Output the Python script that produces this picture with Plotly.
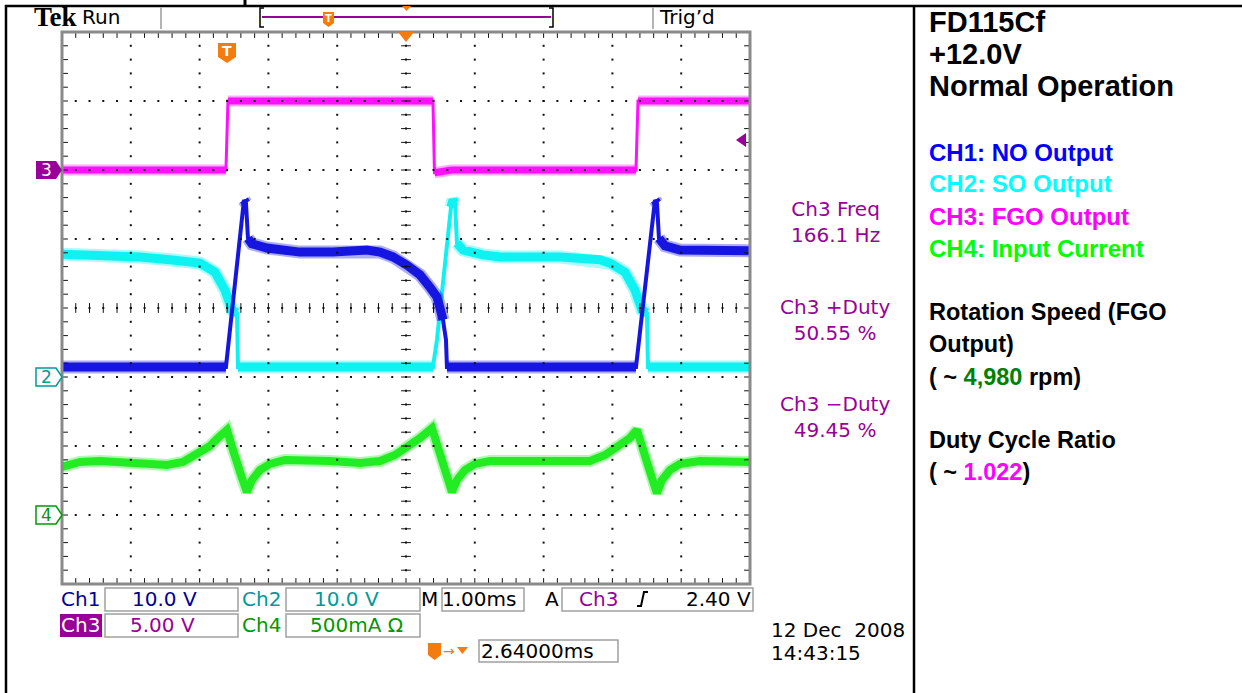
import numpy as np
import plotly.graph_objects as go

W, H = 1242, 693

# ---------------- data ----------------
# time axis: ms relative to trigger (1.00 ms/div, trigger 2.64 ms left of screen centre)
T_LEFT, T_RIGHT = -2.36, 7.64

# CH1 : NO output (V), 10 V/div
ch1_t = [-2.36, 0.023, 0.285, 0.314, 0.343, 0.401, 0.619, 1.099, 1.578, 2.073, 2.262, 2.451,
         2.654, 2.843, 2.988, 3.090, 3.134, 3.177, 3.221, 3.235, 5.983, 6.259, 6.288, 6.317,
         6.404, 6.622, 7.64]
ch1_v = [1.45, 1.45, 25.65, 25.2, 20.1, 19.3, 18.7, 18.1, 18.1, 18.4, 18.1, 17.4,
         16.2, 14.8, 13.0, 11.6, 10.0, 8.3, 5.4, 1.45, 1.45, 25.65, 25.2, 20.1,
         19.0, 18.4, 18.3]

# CH2 : SO output (V), 10 V/div
ch2_t = [-2.36, -1.808, -1.227, -0.791, -0.355, -0.137, 0.009, 0.110, 0.183, 0.198,
         3.032, 3.090, 3.134, 3.235, 3.294, 3.323, 3.352, 3.381, 3.468, 3.759,
         4.006, 4.878, 5.459, 5.605, 5.823, 5.968, 6.070, 6.142, 6.157, 7.64]
ch2_v = [17.8, 17.7, 17.4, 17.0, 16.5, 15.2, 12.6, 9.7, 9.3, 1.45,
         1.45, 5.4, 9.3, 18.8, 24.6, 25.65, 25.2, 19.4, 18.4, 17.7,
         17.4, 17.4, 17.0, 16.5, 15.2, 12.6, 9.7, 9.3, 1.45, 1.45]

# CH3 : FGO output (V), 5 V/div
ch3_t = [-2.36, 0.023, 0.052, 3.032, 3.054, 3.200, 3.300, 5.983, 6.012, 7.64]
ch3_v = [0.0, 0.0, 5.0, 5.0, -0.2, -0.15, 0.0, 0.0, 5.0, 5.0]

# CH4 : input current (mA), 500 mA/div
ch4_t = [-2.36, -2.099, -1.808, -1.328, -0.834, -0.602, -0.355, -0.209, -0.108, 0.038,
         0.125, 0.198, 0.256, 0.328, 0.401, 0.517, 0.663, 0.881, 1.099, 1.535,
         1.971, 2.262, 2.480, 2.698, 2.843, 3.017, 3.105, 3.177, 3.235, 3.308,
         3.381, 3.497, 3.642, 3.860, 4.297, 4.878, 5.314, 5.532, 5.749, 5.895,
         5.997, 6.084, 6.157, 6.215, 6.288, 6.360, 6.477, 6.622, 6.913, 7.64]
ch4_i = [348, 384, 391, 370, 362, 384, 449, 500, 551, 616,
         471, 326, 268, 167, 254, 326, 370, 399, 399, 391,
         377, 391, 435, 500, 558, 630, 486, 341, 268, 167,
         254, 326, 370, 391, 391, 384, 391, 435, 500, 558,
         616, 471, 326, 268, 159, 254, 326, 370, 391, 384]

# readouts
ch_scales = ["10.0 V", "10.0 V", "5.00 V", "500mA Ω"]
timebase = "1.00ms"
trig_level = "2.40 V"
trig_pos = "2.64000ms"
meas_labels = ["Ch3 Freq", "Ch3 +Duty", "Ch3 \u2212Duty"]
meas_values = ["166.1 Hz", "50.55 %", "49.45 %"]
date_str = "12 Dec\u00a0 2008"
time_str = "14:43:15"
panel_title = ["FD115Cf", "+12.0V", "Normal Operation"]
panel_channels = ["CH1: NO Output", "CH2: SO Output", "CH3: FGO Output", "CH4: Input Current"]
rpm_value = "4,980"
duty_ratio = "1.022"

# ---------------- styling ----------------
C1, C2, C3, C4 = "#1616e0", "#10f2f2", "#ff10ff", "#22ec22"
PURPLE, NAVY, TEAL, DGREEN = "#990099", "#000099", "#009999", "#009900"
ORANGE = "#f47b0e"
PXDIV_X, PXDIV_Y = 68.8, 69.0
GX0, GX1, GY0, GY1 = 62, 750, 32, 584


def X(p):
    return p / W


def Y(p):
    return 1 - p / H


fig = go.Figure()

# anchor trace for the main subplot (invisible)
fig.add_trace(go.Scatter(x=[T_LEFT], y=[0], mode="markers", yaxis="y", hoverinfo="skip",
                         marker=dict(size=1, opacity=0)))


def add_channel(t, v, vdiv, color, yaxis, thick, thin=3.0):
    xs, ys = [], []
    prev = False
    for i in range(len(t) - 1):
        dx = (t[i + 1] - t[i]) * PXDIV_X
        dy = abs(v[i + 1] - v[i]) / vdiv * PXDIV_Y
        flat = dx > 0 and dy <= 5 * dx
        if flat:
            if not prev:
                if xs:
                    xs.append(None)
                    ys.append(None)
                xs.append(t[i])
                ys.append(v[i])
            xs.append(t[i + 1])
            ys.append(v[i + 1])
        prev = flat
    # faint noise halo, solid band, thin edges
    fig.add_trace(go.Scatter(x=xs, y=ys, mode="lines", yaxis=yaxis, hoverinfo="skip", opacity=0.35,
                             line=dict(color=color, width=thick + 4)))
    fig.add_trace(go.Scatter(x=xs, y=ys, mode="lines", yaxis=yaxis, hoverinfo="skip",
                             line=dict(color=color, width=thick)))
    fig.add_trace(go.Scatter(x=t, y=v, mode="lines", yaxis=yaxis, hoverinfo="skip",
                             line=dict(color=color, width=thin)))


add_channel(ch4_t, ch4_i, 500, C4, "y2", 8)
add_channel(ch3_t, ch3_v, 5, C3, "y3", 7)
add_channel(ch2_t, ch2_v, 10, C2, "y4", 9, 4)
add_channel(ch1_t, ch1_v, 10, C1, "y4", 9, 4)

# ---------------- graticule (on top) ----------------
fine_x = T_LEFT + np.arange(51) * 0.2
fine_y = np.arange(41) * 0.2
dx_, dy_ = [], []
for k in range(1, 10):
    dx_ += [T_LEFT + k] * 39
    dy_ += list(fine_y[1:-1])
for m in range(1, 8):
    dx_ += list(fine_x[1:-1])
    dy_ += [m] * 49
fig.add_trace(go.Scatter(x=dx_, y=dy_, mode="markers", yaxis="y5", hoverinfo="skip",
                         marker=dict(symbol="square", size=2, color="#111", line=dict(width=0))))
fig.add_trace(go.Scatter(x=[T_LEFT + 5] * 41, y=fine_y, mode="markers", yaxis="y5", hoverinfo="skip",
                         marker=dict(symbol="line-ew", size=7, line=dict(width=1, color="#111"))))
fig.add_trace(go.Scatter(x=fine_x, y=[4] * 51, mode="markers", yaxis="y5", hoverinfo="skip",
                         marker=dict(symbol="line-ns", size=7, line=dict(width=1, color="#111"))))
ex = list(fine_x) * 2
ey = [8 - 0.035] * 51 + [0.035] * 51
fig.add_trace(go.Scatter(x=ex, y=ey, mode="markers", yaxis="y5", hoverinfo="skip",
                         marker=dict(symbol="line-ns", size=5, line=dict(width=1, color="#111"))))
ex = [T_LEFT + 0.035] * 41 + [T_RIGHT - 0.035] * 41
ey = list(fine_y) * 2
fig.add_trace(go.Scatter(x=ex, y=ey, mode="markers", yaxis="y5", hoverinfo="skip",
                         marker=dict(symbol="line-ew", size=5, line=dict(width=1, color="#111"))))

# ---------------- shapes ----------------
shapes = []


def line(x0, y0, x1, y1, color="black", w=2):
    shapes.append(dict(type="line", xref="paper", yref="paper", x0=X(x0), y0=Y(y0), x1=X(x1), y1=Y(y1),
                       line=dict(color=color, width=w)))


def rect(x0, y0, x1, y1, color="#a0a0a0", w=1.5, fill=None):
    d = dict(type="rect", xref="paper", yref="paper", x0=X(x0), y0=Y(y0), x1=X(x1), y1=Y(y1),
             line=dict(color=color, width=w))
    if fill:
        d["fillcolor"] = fill
    shapes.append(d)


def poly(pts, fill, color=None, w=0):
    p = "M " + " L ".join(f"{X(a):.5f},{Y(b):.5f}" for a, b in pts) + " Z"
    shapes.append(dict(type="path", xref="paper", yref="paper", path=p, fillcolor=fill,
                       line=dict(color=color or fill, width=w)))


# page frame
line(5, 6, 1242, 6, w=2.5)
line(6, 5, 6, 693, w=2.5)
line(914, 5, 914, 693, w=2.5)
line(245, 0, 245, 6, w=3)
# header
line(161, 7, 161, 29, color="#b4b4b4", w=2)
line(653, 7, 653, 29, color="#b4b4b4", w=2)
line(262, 17, 551, 17, color=PURPLE, w=2)
shapes.append(dict(type="path", xref="paper", yref="paper",
                   path=f"M {X(264)},{Y(8)} L {X(260)},{Y(8)} L {X(260)},{Y(27)} L {X(264)},{Y(27)}",
                   line=dict(color="black", width=1.5)))
shapes.append(dict(type="path", xref="paper", yref="paper",
                   path=f"M {X(549)},{Y(8)} L {X(553)},{Y(8)} L {X(553)},{Y(27)} L {X(549)},{Y(27)}",
                   line=dict(color="black", width=1.5)))
poly([(402, 6), (411, 6), (406.5, 11)], ORANGE)
poly([(323, 12), (334, 12), (334, 23), (328.5, 27), (323, 23)], ORANGE)

# graticule frame
shapes.append(dict(type="rect", xref="paper", yref="paper", x0=X(GX0), x1=X(GX1), y0=Y(GY1), y1=Y(GY0),
                   line=dict(color="#8a8a8a", width=3)))
# trigger markers
poly([(398, 32), (414, 32), (406, 42)], ORANGE)
poly([(218, 43), (236, 43), (236, 57), (227, 63), (218, 57)], ORANGE)
poly([(746, 133), (736, 140), (746, 147)], PURPLE)

# ground tags
poly([(36, 161), (56, 161), (62, 170), (56, 179), (36, 179)], PURPLE)
poly([(36, 368), (56, 368), (62, 377), (56, 386), (36, 386)], "white", TEAL, 1.5)
poly([(36, 506), (56, 506), (62, 515), (56, 524), (36, 524)], "white", DGREEN, 1.5)

# status boxes
rect(105, 588, 238, 611)
rect(286, 588, 420, 611)
rect(442, 588, 524, 611)
rect(562, 588, 753, 611)
rect(105, 614, 238, 637)
rect(286, 614, 420, 637)
rect(479, 640, 618, 662)
rect(60, 614, 102, 637, color=PURPLE, w=0, fill=PURPLE)
shapes.append(dict(type="path", xref="paper", yref="paper",
                   path=f"M {X(637)},{Y(606)} L {X(641)},{Y(606)} L {X(644)},{Y(592)} L {X(648)},{Y(592)}",
                   line=dict(color="black", width=2)))
poly([(428, 643), (441, 643), (441, 655), (434.5, 660), (428, 655)], ORANGE)
poly([(457, 647), (468, 647), (462.5, 654)], ORANGE)

# ---------------- text ----------------
ann = []
SC = "DejaVu Sans"
AR = "Liberation Sans"


def txt(s, x, y, size=20, color="black", family=SC, xa="left"):
    ann.append(dict(text=s, x=X(x), y=Y(y), xref="paper", yref="paper", showarrow=False,
                    xanchor=xa, yanchor="middle", font=dict(size=size, color=color, family=family)))


txt("<b>Tek</b>", 32, 17, size=27, family="Liberation Serif")
txt("Run", 80, 17)
txt("Trig\u2019d", 657, 17)
txt("<b>T</b>", 227, 51, size=14, color="white", xa="center")
txt("<b>T</b>", 328.5, 18, size=10, color="white", xa="center")

txt("3", 46, 170, size=17, color="white", xa="center")
txt("2", 46, 377, size=17, color=TEAL, xa="center")
txt("4", 46, 515, size=17, color=DGREEN, xa="center")

for i, (lab, val) in enumerate(zip(meas_labels, meas_values)):
    yy = [211, 309, 406][i]
    txt(f"{lab}<br>{val}", 835, yy + 11, size=20, color=PURPLE, xa="center")

txt("Ch1", 59, 599, color=NAVY)
txt(ch_scales[0], 164, 599, color=NAVY, xa="center")
txt("Ch2", 240, 599, color=TEAL)
txt(ch_scales[1], 346, 599, color=TEAL, xa="center")
txt("M", 419, 599)
txt(timebase, 440, 599)
txt("A", 543, 599)
txt("Ch3", 577, 599, color=PURPLE)
txt(trig_level, 753, 599, xa="right")
txt("Ch3", 59, 625, color="white")
txt(ch_scales[2], 162, 625, color=PURPLE, xa="center")
txt("Ch4", 240, 625, color=DGREEN)
txt(ch_scales[3], 356, 625, color=DGREEN, xa="center")
txt("\u2192", 441, 651, size=14, color=ORANGE)
txt(trig_pos, 479, 651)
txt(date_str, 769, 630)
txt(time_str, 769, 653)

for s, yy in zip(panel_title, [22, 54, 86]):
    txt(f"<b>{s}</b>", 927, yy, size=29, family=AR)
for s, yy, c in zip(panel_channels, [152, 184, 216, 248], ["#0000ff", "#00ffff", "#ff00ff", "#00ff00"]):
    txt(f"<b>{s}</b>", 927, yy, size=24, color=c, family=AR)
txt("<b>Rotation Speed (FGO</b>", 927, 312, size=23.5, family=AR)
txt("<b>Output)</b>", 927, 344, size=23.5, family=AR)
txt(f"<b>( ~ <span style='color:#008000'>{rpm_value}</span> rpm)</b>", 927, 377, size=23.5, family=AR)
txt("<b>Duty Cycle Ratio</b>", 927, 440, size=23.5, family=AR)
txt(f"<b>( ~ <span style='color:#ff00ff'>{duty_ratio}</span>)</b>", 927, 472, size=23.5, family=AR)

ydom = [1 - GY1 / H, 1 - GY0 / H]
hid = dict(visible=False, showgrid=False, zeroline=False, fixedrange=True)
fig.update_layout(
    width=W, height=H, margin=dict(l=0, r=0, t=0, b=0, pad=0, autoexpand=False),
    paper_bgcolor="white", plot_bgcolor="white", showlegend=False,
    xaxis=dict(domain=[GX0 / W, GX1 / W], range=[T_LEFT, T_RIGHT], **hid),
    yaxis=dict(domain=ydom, range=[0, 8], **hid),
    yaxis2=dict(domain=ydom, overlaying="y", anchor="x", range=[-500, 3500], **hid),
    yaxis3=dict(domain=ydom, overlaying="y", anchor="x", range=[-30, 10], **hid),
    yaxis4=dict(domain=ydom, overlaying="y", anchor="x", range=[-30, 50], **hid),
    yaxis5=dict(domain=ydom, overlaying="y", anchor="x", range=[0, 8], **hid),
    shapes=shapes, annotations=ann,
)
fig.write_html("out.html", config={"displayModeBar": False})
